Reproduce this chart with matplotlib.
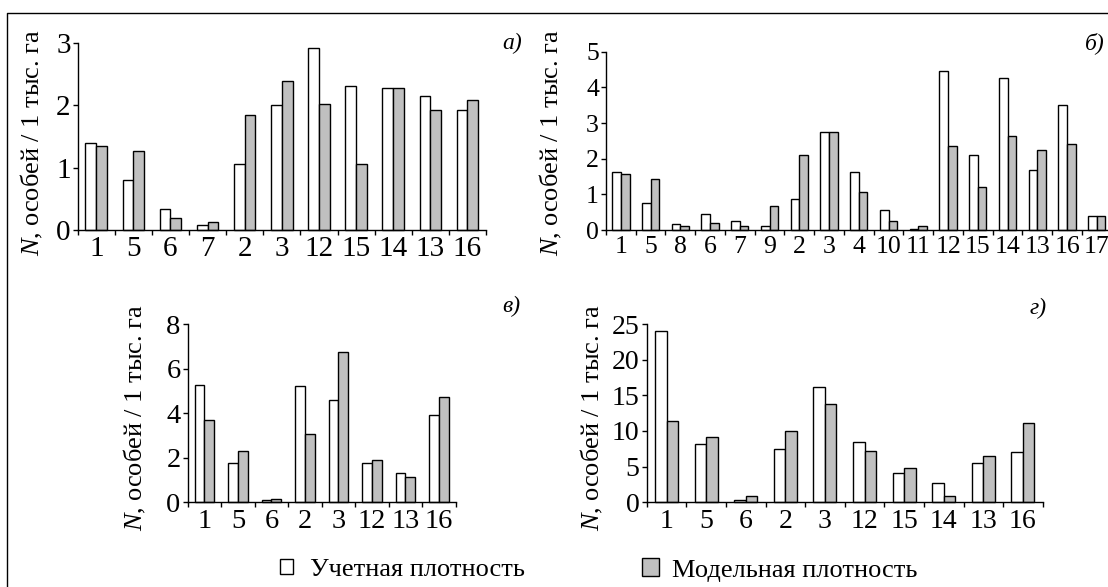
import numpy as np
import matplotlib.pyplot as plt
from matplotlib.lines import Line2D

plt.rcParams['font.family'] = ['Liberation Serif', 'DejaVu Serif']
plt.rcParams['mathtext.fontset'] = 'custom'
plt.rcParams['mathtext.rm'] = 'Liberation Serif'
plt.rcParams['mathtext.it'] = 'Liberation Serif:italic'

# panel а)
cats_a = ['1', '5', '6', '7', '2', '3', '12', '15', '14', '13', '16']
obs_a = [1.39, 0.80, 0.34, 0.075, 1.06, 2.00, 2.91, 2.30, 2.27, 2.14, 1.93]
mod_a = [1.35, 1.26, 0.19, 0.13, 1.84, 2.38, 2.02, 1.06, 2.27, 1.93, 2.08]

# panel б)
cats_b = ['1', '5', '8', '6', '7', '9', '2', '3', '4', '10', '11', '12', '15', '14', '13', '16', '17']
obs_b = [1.63, 0.75, 0.18, 0.44, 0.24, 0.12, 0.87, 2.74, 1.63, 0.57, 0.02, 4.47, 2.11, 4.27, 1.68, 3.51, 0.40]
mod_b = [1.56, 1.43, 0.12, 0.21, 0.12, 0.67, 2.11, 2.76, 1.07, 0.24, 0.11, 2.35, 1.20, 2.64, 2.23, 2.40, 0.40]

# panel в)
cats_c = ['1', '5', '6', '2', '3', '12', '13', '16']
obs_c = [5.26, 1.78, 0.10, 5.22, 4.60, 1.78, 1.32, 3.92]
mod_c = [3.71, 2.30, 0.16, 3.08, 6.76, 1.88, 1.15, 4.74]

# panel г)
cats_d = ['1', '5', '6', '2', '3', '12', '15', '14', '13', '16']
obs_d = [24.07, 8.22, 0.28, 7.52, 16.17, 8.50, 4.16, 2.66, 5.47, 7.10]
mod_d = [11.4, 9.16, 0.89, 9.95, 13.74, 7.24, 4.77, 0.89, 6.54, 11.12]

W, H = 1108, 587
fig = plt.figure(figsize=(W / 100, H / 100), dpi=100)

def px(x0, y0, x1, y1):
    return [x0 / W, 1 - y1 / H, (x1 - x0) / W, (y1 - y0) / H]

# rect, cats, obs, mod, ymax, step, tick size, tag, tag pos, ylabel pos
panels = [
    (px(77.7, 42.7, 486, 230), cats_a, obs_a, mod_a, 3, 1, 21, 'а)', (522, 43.5), (31.5, 142.5)),
    (px(606, 51.7, 1111.7, 230), cats_b, obs_b, mod_b, 5, 1, 18.5, 'б)', (1105, 43.5), (551, 143)),
    (px(187.7, 324, 455.7, 502.3), cats_c, obs_c, mod_c, 8, 2, 20.5, 'в)', (520, 306.5), (135, 417.5)),
    (px(646.7, 324, 1042.7, 502.3), cats_d, obs_d, mod_d, 25, 5, 20, 'г)', (1047, 308), (592, 417.5)),
]

bw = 0.29
fs = 19     # axis titles / legend
for rect, cats, obs, mod, ymax, step, fs_tick, tag, tag_xy, lab_xy in panels:
    ax = fig.add_axes(rect)
    x = np.arange(len(cats))
    b1 = ax.bar(x - bw / 2, obs, bw, color='white', edgecolor='black', linewidth=1.0, clip_on=False)
    b2 = ax.bar(x + bw / 2, mod, bw, color='#c0c0c0', edgecolor='black', linewidth=1.0, clip_on=False)
    ax.set_xlim(-0.5, len(cats) - 0.5)
    ax.set_ylim(0, ymax)
    ax.set_yticks(np.arange(0, ymax + step / 2, step))
    ax.set_xticks(np.arange(len(cats) + 1) - 0.5)
    ax.set_xticklabels([])
    ax.set_xticks(x, minor=True)
    ax.set_xticklabels(cats, minor=True, fontsize=fs_tick)
    ax.tick_params(axis='x', which='major', direction='out', length=3.6, width=1.0)
    ax.tick_params(axis='x', which='minor', length=0, pad=4.5)
    ax.tick_params(axis='y', direction='out', length=3.6, width=1.0, pad=1.5, labelsize=fs_tick)
    for s in ['top', 'right']:
        ax.spines[s].set_visible(False)
    for s in ['left', 'bottom']:
        ax.spines[s].set_linewidth(1.0)
    fig.text(tag_xy[0] / W, 1 - tag_xy[1] / H, tag, ha='right', va='center',
             fontsize=17, fontstyle='italic')
    fig.text(lab_xy[0] / W, 1 - lab_xy[1] / H, r'$N$, особей / 1 тыс. га', rotation=90,
             ha='center', va='center', fontsize=fs)

leg1 = fig.legend(handles=[b1], labels=['Учетная плотность'], loc='center left',
                  bbox_to_anchor=(280 / W, 1 - 570 / H), frameon=False, fontsize=fs,
                  handlelength=0.5, handleheight=0.5, handletextpad=0.65,
                  borderpad=0, borderaxespad=0)
leg2 = fig.legend(handles=[b2], labels=['Модельная плотность'], loc='center left',
                  bbox_to_anchor=(642 / W, 1 - 570 / H), frameon=False, fontsize=fs,
                  handlelength=0.65, handleheight=0.65, handletextpad=0.5,
                  borderpad=0, borderaxespad=0)

# outer frame
fig.add_artist(Line2D([7 / W, 7 / W, 1.0], [0, 1 - 13 / H, 1 - 13 / H],
                      color='black', linewidth=1.0, transform=fig.transFigure))

fig.savefig('out.png', dpi=100)
